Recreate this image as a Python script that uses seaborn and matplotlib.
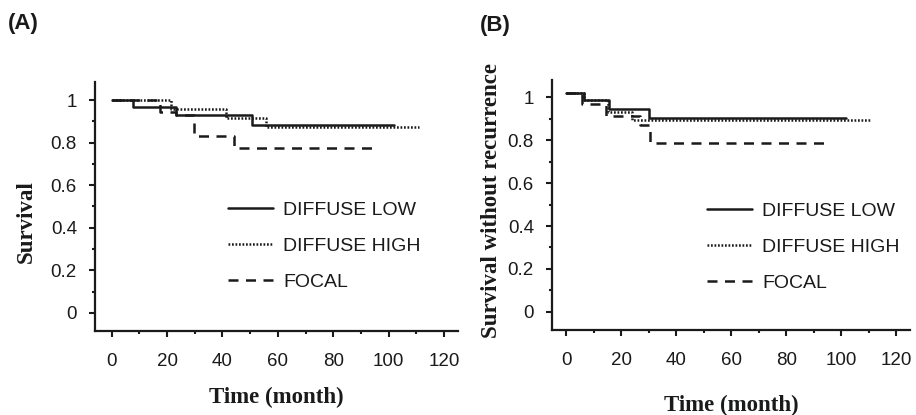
import numpy as np
import pandas as pd
import seaborn as sns
import matplotlib
matplotlib.use("Agg")
import matplotlib.pyplot as plt
from matplotlib.ticker import MultipleLocator, FixedLocator

# ---------------- data ----------------
groups = ["DIFFUSE LOW", "DIFFUSE HIGH", "FOCAL"]

low_a_t = [0, 7.7, 23.4, 50.6, 101.8]
low_a_s = [1.0, 0.968, 0.930, 0.884, 0.884]
high_a_t = [0, 21.5, 41.3, 55.6, 111.0]
high_a_s = [1.0, 0.957, 0.918, 0.875, 0.875]
focal_a_t = [0, 17.4, 23.4, 29.7, 44.2, 95.5]
focal_a_s = [1.0, 0.943, 0.930, 0.830, 0.774, 0.774]

low_b_t = [0, 6.3, 15.4, 29.9, 101.9]
low_b_s = [1.02, 0.988, 0.944, 0.902, 0.902]
high_b_t = [0, 6.3, 15.3, 23.8, 110.8]
high_b_s = [1.02, 0.988, 0.933, 0.895, 0.895]
focal_b_t = [0, 5.8, 14.3, 26.8, 30.3, 95.8]
focal_b_s = [1.02, 0.967, 0.913, 0.870, 0.786, 0.786]

x_ticks = [0, 20, 40, 60, 80, 100, 120]
y_ticks = [0, 0.2, 0.4, 0.6, 0.8, 1.0]
y_tick_labels = ["0", "0.2", "0.4", "0.6", "0.8", "1"]

panel_labels = ["(A)", "(B)"]
y_labels = ["Survival", "Survival without recurrence"]
x_label = "Time (month)"


def make_df(series):
    rows = []
    for g, (t, s) in zip(groups, series):
        for ti, si in zip(t, s):
            rows.append({"time": ti, "surv": si, "group": g})
    return pd.DataFrame(rows)


df_a = make_df([(low_a_t, low_a_s), (high_a_t, high_a_s), (focal_a_t, focal_a_s)])
df_b = make_df([(low_b_t, low_b_s), (high_b_t, high_b_s), (focal_b_t, focal_b_s)])

# ---------------- style ----------------
sns.set_style("white")
plt.rcParams["font.family"] = ["Liberation Sans", "DejaVu Sans"]
INK = "#1a1a1a"

W, H = 916, 415
fig = plt.figure(figsize=(W / 100, H / 100), dpi=100)


def px_axes(l, r, t, b):
    return fig.add_axes([l / W, 1 - b / H, (r - l) / W, (b - t) / H])


ax_a = px_axes(95, 458, 82, 331)
ax_b = px_axes(552, 910, 80, 330)

dash_map = {"DIFFUSE LOW": "", "DIFFUSE HIGH": (0.7, 0.7), "FOCAL": (4, 3)}

configs = [
    (ax_a, df_a, (-6, 125), (-0.085, 1.085), (0.366, 0.52), (-0.19, 0.438), 0.265),
    (ax_b, df_b, (-5.2, 125), (-0.085, 1.081), (0.433, 0.51), (-0.17, 0.52), 0.30),
]

for i, (ax, df, xl, yl, leg_xy, ylab_xy, xlab_y) in enumerate(configs):
    sns.lineplot(data=df, x="time", y="surv", style="group", style_order=groups,
                 dashes=dash_map, color=INK, linewidth=1.8, estimator=None,
                 sort=False, drawstyle="steps-post", ax=ax)
    ax.set_xlim(*xl)
    ax.set_ylim(*yl)
    ax.xaxis.set_major_locator(FixedLocator(x_ticks))
    ax.xaxis.set_minor_locator(MultipleLocator(10))
    ax.yaxis.set_major_locator(FixedLocator(y_ticks))
    ax.set_yticklabels(y_tick_labels)
    ax.yaxis.set_minor_locator(MultipleLocator(0.1))
    for s in ["top", "right"]:
        ax.spines[s].set_visible(False)
    for s in ["left", "bottom"]:
        ax.spines[s].set_linewidth(1.6)
        ax.spines[s].set_color(INK)
    ax.tick_params(which="major", direction="out", length=4, width=1.5,
                   color=INK, labelsize=13.5, labelcolor=INK)
    ax.tick_params(which="minor", direction="out", length=2, width=1.5, color=INK)
    ax.tick_params(axis="x", which="major", pad=12)
    ax.tick_params(axis="y", which="major", pad=9)
    ax.tick_params(axis="both", which="both", bottom=True, left=True)

    ax.set_xlabel(x_label, fontsize=16.5, fontweight="bold",
                  family=["Liberation Serif", "DejaVu Serif"], color=INK)
    ax.set_ylabel(y_labels[i], fontsize=16.5, fontweight="bold",
                  family=["Liberation Serif", "DejaVu Serif"], color=INK)
    ax.xaxis.label.set_verticalalignment("center")
    ax.yaxis.label.set_verticalalignment("center")
    ax.xaxis.set_label_coords(0.5, -xlab_y)
    ax.yaxis.set_label_coords(*ylab_xy)

    leg = ax.legend(loc="upper left", bbox_to_anchor=leg_xy, frameon=False,
                    fontsize=14, handlelength=2.3, handletextpad=0.55,
                    labelspacing=0.95, borderpad=0, borderaxespad=0)
    for t in leg.get_texts():
        t.set_color(INK)

fig.text(8 / W, 1 - 24 / H, panel_labels[0], fontsize=16, fontweight="bold",
         ha="left", va="center", color=INK)
fig.text(480 / W, 1 - 25 / H, panel_labels[1], fontsize=16, fontweight="bold",
         ha="left", va="center", color=INK)

fig.savefig("out.png", dpi=100)
